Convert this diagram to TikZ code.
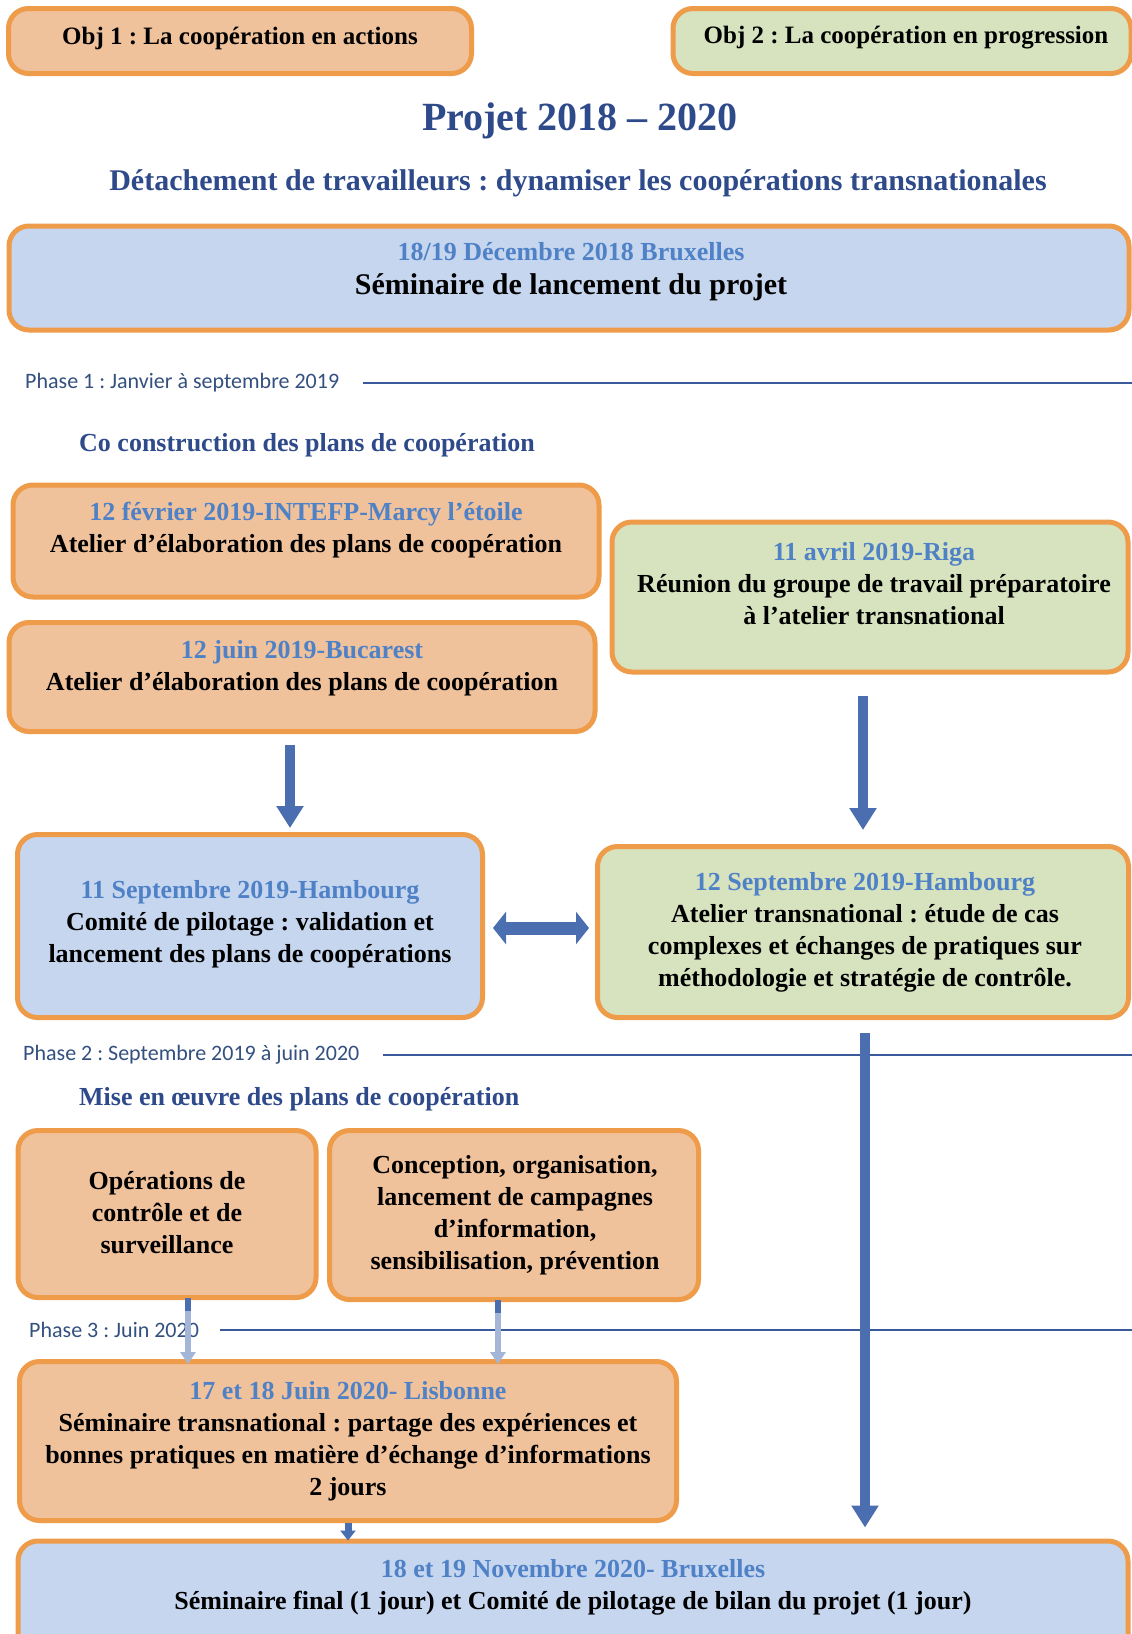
\documentclass[tikz,border=0pt]{standalone}
\usepackage{fontspec}
\setmainfont{Liberation Serif}
\newfontfamily\phasefont{Carlito}
\usetikzlibrary{arrows.meta,calc}
\definecolor{peach}{HTML}{F0C29C}
\definecolor{sage}{HTML}{D7E3BF}
\definecolor{sky}{HTML}{C6D6EF}
\definecolor{bord}{HTML}{EE9B4A}
\definecolor{datec}{HTML}{4F81C6}
\definecolor{navy}{HTML}{2E4A8A}
\definecolor{phasec}{HTML}{34507F}
\definecolor{linec}{HTML}{3A5A9C}
\definecolor{arrowc}{HTML}{4A6EAF}
\definecolor{lightarr}{HTML}{A3B6D8}
\frenchspacing
\begin{document}
\begin{tikzpicture}[x=1pt,y=-1pt,
  box/.style={draw=bord, line width=5pt, rounded corners=20pt, inner sep=0pt},
  obox/.style={box, fill=peach},
  gbox/.style={box, fill=sage},
  bbox/.style={box, fill=sky},
  txt/.style={align=center, inner sep=0pt, font=\fontsize{26}{32}\selectfont\bfseries},
  objtxt/.style={inner sep=0pt, font=\fontsize{25}{28}\selectfont\bfseries},
  heading/.style={inner sep=0pt, text=navy, font=\fontsize{26}{30}\selectfont\bfseries},
  phase/.style={inner sep=0pt, text=phasec, font=\phasefont\fontsize{22}{24}\selectfont},
  phaseline/.style={draw=linec, line width=2.5pt},
  barrow/.style={draw=arrowc, line width=10pt, -{Triangle[width=26pt,length=22pt]}},
  darrow/.style={draw=arrowc, line width=13pt, {Triangle[width=32pt,length=13pt]}-{Triangle[width=32pt,length=13pt]}},
  larrow/.style={draw=lightarr, line width=6pt, -{Triangle[width=15pt,length=12pt]}},
  sarrow/.style={draw=arrowc, line width=7pt, -{Triangle[width=15pt,length=10pt]}}
]
\useasboundingbox (0,0) rectangle (1132,1634);
\fill[white] (0,0) rectangle (1132,1634);
\clip (0,0) rectangle (1132,1634);

% objectives
\node[obox, minimum width=463pt, minimum height=65pt] (obj1) at (240,41) {};
\node[objtxt] (obj1t) at (240,38) {Obj 1 : La coopération en actions};
\node[gbox, minimum width=458pt, minimum height=65pt] (obj2) at (902,41) {};
\node[objtxt] (obj2t) at (906,38) {Obj 2 : La coopération en progression};

% titles
\node[inner sep=0pt, text=navy, font=\fontsize{40}{44}\selectfont\bfseries] (title) at (580,121) {Projet 2018 – 2020};
\node[inner sep=0pt, text=navy, font=\fontsize{30}{34}\selectfont\bfseries] (subtitle) at (578,183) {Détachement de travailleurs : dynamiser les coopérations transnationales};

% launch
\node[bbox, minimum width=1120pt, minimum height=104pt] (launch) at (569,278) {};
\node[txt] (launcht) at (571,272) {{\color{datec}18/19 Décembre 2018 Bruxelles}\\[2pt]{\fontsize{30}{34}\selectfont Séminaire de lancement du projet}};

% phase 1
\node[phase, anchor=west] (p1) at (25,383) {Phase 1 : Janvier à septembre 2019};
\coordinate (p1end) at (1132,383);
\draw[phaseline] ([xshift=24pt]p1.east) -- (p1end);
\node[heading, anchor=west] (h1) at (79,445) {Co construction des plans de coopération};

\node[obox, minimum width=586pt, minimum height=112pt] (feb) at (306,541) {};
\node[txt] (febt) at (306,530) {{\color{datec}12 février 2019-INTEFP-Marcy l’étoile}\\Atelier d’élaboration des plans de coopération};
\node[obox, minimum width=586pt, minimum height=109pt] (jun) at (302,677) {};
\node[txt] (junt) at (302,668) {{\color{datec}12 juin 2019-Bucarest}\\Atelier d’élaboration des plans de coopération};
\node[gbox, minimum width=516pt, minimum height=150pt] (apr) at (870,597) {};
\node[txt] (aprt) at (874,584) {{\color{datec}11 avril 2019-Riga}\\Réunion du groupe de travail préparatoire\\à l’atelier transnational};

\node[bbox, minimum width=465pt, minimum height=183pt] (sep11) at (250,926) {};
\node[txt] (sep11t) at (250,924) {{\color{datec}11 Septembre 2019-Hambourg}\\Comité de pilotage : validation et\\lancement des plans de coopérations};
\node[gbox, minimum width=531pt, minimum height=171pt] (sep12) at (863,932) {};
\node[txt] (sep12t) at (865,932) {{\color{datec}12 Septembre 2019-Hambourg}\\Atelier transnational : étude de cas\\complexes et échanges de pratiques sur\\méthodologie et stratégie de contrôle.};

% phase 2
\node[phase, anchor=west] (p2) at (23,1055) {Phase 2 : Septembre 2019 à juin 2020};
\coordinate (p2end) at (1132,1055);
\draw[phaseline] ([xshift=24pt]p2.east) -- (p2end);
\node[heading, anchor=west] (h2) at (79,1099) {Mise en œuvre des plans de coopération};

\node[obox, minimum width=298pt, minimum height=167pt] (op) at (167,1214) {};
\node[txt] (opt) at (167,1213) {Opérations de\\contrôle et de\\surveillance};
\node[obox, minimum width=369pt, minimum height=169pt] (conc) at (514,1215) {};
\node[txt] (conct) at (515,1215) {Conception, organisation,\\lancement de campagnes\\d’information,\\sensibilisation, prévention};

% phase 3
\node[phase, anchor=west] (p3) at (29,1330) {Phase 3 : Juin 2020};
\coordinate (p3end) at (1132,1330);
\draw[phaseline] ([xshift=21pt]p3.east) -- (p3end);

\node[obox, minimum width=657pt, minimum height=159pt] (lisb) at (348,1441) {};
\node[txt] (lisbt) at (348,1441) {{\color{datec}17 et 18 Juin 2020- Lisbonne}\\Séminaire transnational : partage des expériences et\\bonnes pratiques en matière d’échange d’informations\\2 jours};

\node[bbox, minimum width=1110pt, minimum height=140pt] (final) at (573,1611) {};
\node[txt] (finalt) at (573,1587) {{\color{datec}18 et 19 Novembre 2020- Bruxelles}\\Séminaire final (1 jour) et Comité de pilotage de bilan du projet (1 jour)};

% arrows
\draw[barrow] ($(jun.south)+(-12,11)$) -- ($(jun.south |- sep11.north)+(-12,-4)$);
\draw[barrow] ($(apr.south)+(-7,21)$) -- ($(apr.south |- sep12.north)+(-7,-14)$);
\draw[darrow] ($(sep11.east)+(8,2)$) -- ($(sep11.east -| sep12.west)+(-6,2)$);
\draw[barrow] ($(sep12.south)+(2,13)$) -- ($(sep12.south |- final.north)+(2,-11)$);

\draw[larrow] ($(op.south)+(21,8)$) -- ($(op.south |- lisb.north)+(21,5)$);
\fill[arrowc] ($(op.south)+(18,-2)$) rectangle ($(op.south)+(24,11)$);
\draw[larrow] ($(conc.south)+(-16,8)$) -- ($(conc.south |- lisb.north)+(-16,5)$);
\fill[arrowc] ($(conc.south)+(-19,-2)$) rectangle ($(conc.south)+(-13,11)$);
\draw[sarrow] (lisb.south) -- ($(lisb.south |- final.north)+(0,2)$);
\end{tikzpicture}
\end{document}
